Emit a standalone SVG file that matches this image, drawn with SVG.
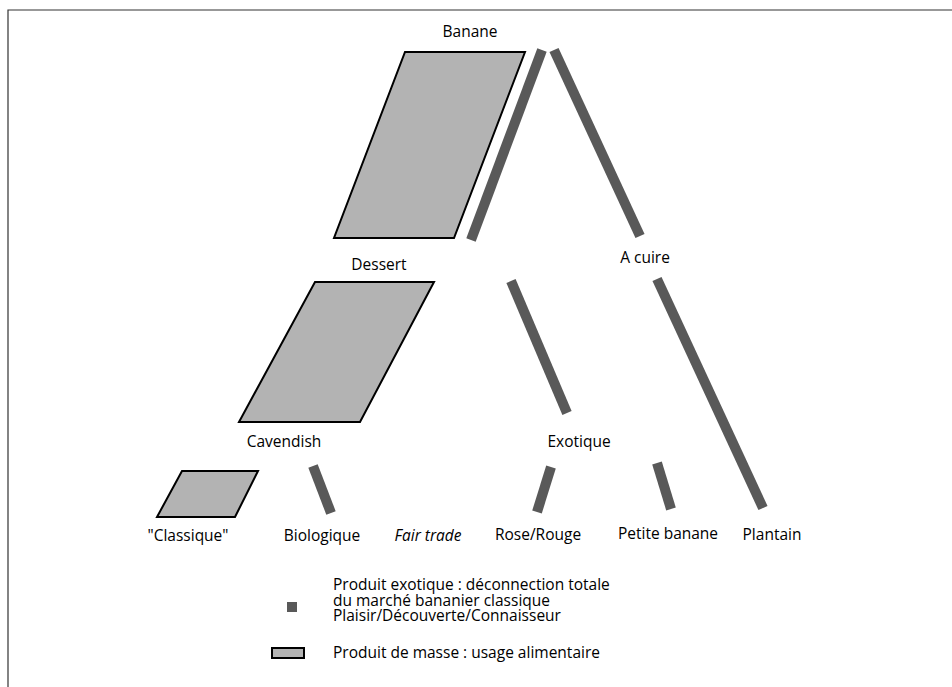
<svg xmlns="http://www.w3.org/2000/svg" width="952" height="687" viewBox="0 0 952 687">
<style>
text{font-family:"Open Sans","Liberation Sans",sans-serif;font-size:15.5px;fill:#000}
.c{text-anchor:middle}
.mass{fill:#b3b3b3;stroke:#000;stroke-width:2;stroke-linejoin:miter}
.exo{stroke:#595959;stroke-width:10;fill:none;stroke-linecap:butt}
.frame{stroke:#333;stroke-width:1.2;fill:none}
</style>
<rect width="952" height="687" fill="#fff"/>
<path class="frame" d="M8,687 V10 H952"/>
<g id="connectors">
<polygon class="mass" points="405,52 525,52 454,238 334,238"/>
<line class="exo" x1="471" y1="240" x2="542" y2="50"/>
<line class="exo" x1="554" y1="50" x2="640" y2="236"/>
<polygon class="mass" points="315,282 434,282 360,422 239,422"/>
<line class="exo" x1="511" y1="281" x2="567" y2="413"/>
<line class="exo" x1="657" y1="279" x2="763" y2="508"/>
<polygon class="mass" points="182,471 258,471 235,517 157,517"/>
<line class="exo" x1="313" y1="466" x2="331" y2="513"/>
<line class="exo" x1="551" y1="467" x2="537" y2="512"/>
<line class="exo" x1="657" y1="463" x2="671" y2="509"/>
</g>
<g id="banane"><text class="c" x="470" y="37" font-size="14.5">Banane</text></g>
<g id="dessert"><text class="c" x="379" y="270">Dessert</text></g>
<g id="acuire"><text class="c" x="645" y="263">A cuire</text></g>
<g id="cavendish"><text class="c" x="284" y="447">Cavendish</text></g>
<g id="exotique"><text class="c" x="579" y="447">Exotique</text></g>
<g id="classique"><text class="c" x="188" y="541">"Classique"</text></g>
<g id="biologique"><text class="c" x="322" y="541">Biologique</text></g>
<g id="fairtrade"><text class="c" x="428" y="541" font-style="italic">Fair trade</text></g>
<g id="rose"><text class="c" x="538" y="540">Rose/Rouge</text></g>
<g id="petite"><text class="c" x="668" y="539">Petite banane</text></g>
<g id="plantain"><text class="c" x="772" y="540">Plantain</text></g>
<g id="legend">
<rect x="287" y="602" width="10" height="10" fill="#595959"/>
<text x="333" y="590">Produit exotique : déconnection totale</text>
<text x="333" y="605.5">du marché bananier classique</text>
<text x="333" y="621">Plaisir/Découverte/Connaisseur</text>
<rect class="mass" x="272" y="648" width="32" height="10"/>
<text x="333" y="657.5">Produit de masse : usage alimentaire</text>
</g>
</svg>
